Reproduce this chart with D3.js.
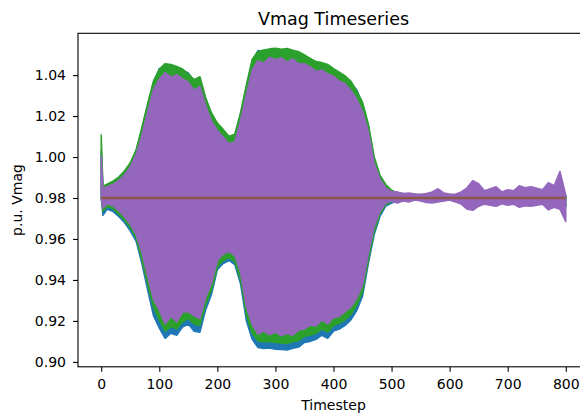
<!DOCTYPE html>
<html lang="en">
<head>
<meta charset="UTF-8">
<title>Vmag Timeseries</title>
<script src="https://d3js.org/d3.v7.min.js"></script>
<style>
  body { margin: 0; background: #fff; }
  svg { display: block; font-family: "DejaVu Sans", sans-serif; }
  .axis path { display: none; }
  .axis line { stroke: #000; stroke-width: 1.1; }
  .axis text { font-size: 14px; fill: #000; font-family: "DejaVu Sans", sans-serif; }
</style>
</head>
<body>
<svg id="chart" width="580" height="415"></svg>
<script>
const timesteps = [
  0, 3, 10, 20, 30, 40, 50, 60, 70, 80,
  90, 100, 110, 120, 130, 140, 150, 160, 170, 180,
  190, 200, 210, 220, 230, 240, 250, 260, 270, 280,
  290, 300, 310, 320, 330, 340, 350, 360, 370, 380,
  390, 400, 410, 420, 430, 440, 450, 460, 470, 480,
  490, 500, 510, 520, 530, 540, 550, 560, 570, 580,
  590, 600, 610, 620, 630, 640, 650, 660, 670, 680,
  690, 700, 710, 720, 730, 740, 750, 760, 770, 780,
  790, 800
];

// upper / lower swing of each oscillating series (p.u.)
const blueHi = [
  1.0030, 0.9852, 0.9864, 0.9876, 0.9896, 0.9926, 0.9966, 1.0028, 1.0138, 1.0255,
  1.0364, 1.0432, 1.0448, 1.0446, 1.0436, 1.0424, 1.0410, 1.0372, 1.0384, 1.0282,
  1.0208, 1.0160, 1.0128, 1.0096, 1.0105, 1.0210, 1.0345, 1.0470, 1.0520, 1.0515,
  1.0520, 1.0524, 1.0519, 1.0522, 1.0514, 1.0507, 1.0490, 1.0475, 1.0458, 1.0454,
  1.0445, 1.0425, 1.0406, 1.0389, 1.0362, 1.0328, 1.0260, 1.0155, 0.9995, 0.9905,
  0.9860, 0.9834, 0.9822, 0.9820, 0.9818, 0.9816, 0.9814, 0.9813, 0.9815, 0.9818,
  0.9814, 0.9813, 0.9812, 0.9815, 0.9820, 0.9828, 0.9824, 0.9817, 0.9820, 0.9822,
  0.9815, 0.9818, 0.9816, 0.9822, 0.9818, 0.9820, 0.9818, 0.9816, 0.9825, 0.9822,
  0.9838, 0.9810
];
const blueLo = [
  0.9800, 0.9715, 0.9745, 0.9735, 0.9710, 0.9680, 0.9640, 0.9590, 0.9480, 0.9350,
  0.9225, 0.9165, 0.9115, 0.9140, 0.9130, 0.9170, 0.9185, 0.9150, 0.9145, 0.9255,
  0.9330, 0.9450, 0.9480, 0.9495, 0.9475, 0.9380, 0.9200, 0.9110, 0.9070, 0.9065,
  0.9068, 0.9062, 0.9060, 0.9058, 0.9066, 0.9072, 0.9095, 0.9100, 0.9110, 0.9130,
  0.9115, 0.9150, 0.9160, 0.9178, 0.9205, 0.9250, 0.9320, 0.9480, 0.9620, 0.9710,
  0.9760, 0.9775, 0.9785, 0.9790, 0.9788, 0.9792, 0.9790, 0.9786, 0.9784, 0.9786,
  0.9788, 0.9790, 0.9786, 0.9780, 0.9770, 0.9768, 0.9776, 0.9780, 0.9778, 0.9776,
  0.9782, 0.9778, 0.9780, 0.9774, 0.9778, 0.9776, 0.9778, 0.9780, 0.9770, 0.9774,
  0.9768, 0.9758
];
const greenHi = [
  1.0107, 0.9858, 0.9868, 0.9882, 0.9902, 0.9932, 0.9972, 1.0035, 1.0145, 1.0262,
  1.0372, 1.0428, 1.0456, 1.0452, 1.0442, 1.0430, 1.0405, 1.0378, 1.0392, 1.0288,
  1.0215, 1.0166, 1.0135, 1.0102, 1.0112, 1.0218, 1.0352, 1.0478, 1.0515, 1.0522,
  1.0528, 1.0531, 1.0526, 1.0530, 1.0521, 1.0514, 1.0498, 1.0482, 1.0466, 1.0461,
  1.0452, 1.0432, 1.0414, 1.0396, 1.0370, 1.0322, 1.0268, 1.0162, 1.0002, 0.9912,
  0.9866, 0.9838, 0.9826, 0.9822, 0.9820, 0.9818, 0.9816, 0.9815, 0.9818, 0.9822,
  0.9816, 0.9815, 0.9814, 0.9818, 0.9825, 0.9835, 0.9828, 0.9820, 0.9824, 0.9826,
  0.9818, 0.9822, 0.9820, 0.9826, 0.9822, 0.9824, 0.9822, 0.9820, 0.9830, 0.9826,
  0.9845, 0.9812
];
const greenLo = [
  0.9800, 0.9735, 0.9758, 0.9748, 0.9722, 0.9692, 0.9655, 0.9605, 0.9500, 0.9380,
  0.9268, 0.9205, 0.9150, 0.9172, 0.9160, 0.9196, 0.9212, 0.9185, 0.9178, 0.9280,
  0.9352, 0.9465, 0.9495, 0.9508, 0.9490, 0.9402, 0.9228, 0.9140, 0.9102, 0.9098,
  0.9100, 0.9095, 0.9092, 0.9090, 0.9098, 0.9104, 0.9125, 0.9130, 0.9140, 0.9160,
  0.9145, 0.9178, 0.9188, 0.9205, 0.9232, 0.9275, 0.9342, 0.9498, 0.9635, 0.9722,
  0.9768, 0.9782, 0.9788, 0.9792, 0.9790, 0.9794, 0.9792, 0.9788, 0.9786, 0.9788,
  0.9790, 0.9792, 0.9788, 0.9782, 0.9772, 0.9770, 0.9778, 0.9782, 0.9780, 0.9778,
  0.9784, 0.9780, 0.9782, 0.9776, 0.9780, 0.9778, 0.9780, 0.9782, 0.9772, 0.9776,
  0.9770, 0.9760
];
const purpleHi = [
  1.0002, 0.9845, 0.9855, 0.9866, 0.9885, 0.9912, 0.9952, 1.0012, 1.0105, 1.0222,
  1.0330, 1.0380, 1.0412, 1.0390, 1.0402, 1.0382, 1.0365, 1.0325, 1.0345, 1.0250,
  1.0175, 1.0130, 1.0098, 1.0066, 1.0072, 1.0180, 1.0305, 1.0425, 1.0470, 1.0458,
  1.0488, 1.0475, 1.0485, 1.0462, 1.0480, 1.0455, 1.0455, 1.0440, 1.0418, 1.0425,
  1.0405, 1.0395, 1.0370, 1.0358, 1.0325, 1.0282, 1.0222, 1.0125, 0.9970, 0.9892,
  0.9850, 0.9830, 0.9830, 0.9822, 0.9825, 0.9820, 0.9818, 0.9822, 0.9830, 0.9845,
  0.9825, 0.9820, 0.9818, 0.9830, 0.9850, 0.9885, 0.9870, 0.9835, 0.9845, 0.9855,
  0.9830, 0.9840, 0.9835, 0.9860, 0.9850, 0.9855, 0.9848, 0.9840, 0.9875, 0.9860,
  0.9930, 0.9815
];
const purpleLo = [
  0.9800, 0.9750, 0.9772, 0.9762, 0.9738, 0.9708, 0.9672, 0.9622, 0.9535, 0.9418,
  0.9305, 0.9252, 0.9185, 0.9222, 0.9195, 0.9242, 0.9245, 0.9225, 0.9212, 0.9315,
  0.9385, 0.9495, 0.9525, 0.9538, 0.9520, 0.9435, 0.9268, 0.9182, 0.9135, 0.9150,
  0.9132, 0.9145, 0.9128, 0.9138, 0.9130, 0.9155, 0.9160, 0.9180, 0.9175, 0.9205,
  0.9185, 0.9215, 0.9222, 0.9245, 0.9268, 0.9310, 0.9375, 0.9528, 0.9660, 0.9735,
  0.9775, 0.9785, 0.9775, 0.9785, 0.9780, 0.9790, 0.9785, 0.9778, 0.9775, 0.9780,
  0.9785, 0.9790, 0.9780, 0.9770, 0.9745, 0.9740, 0.9760, 0.9770, 0.9765, 0.9760,
  0.9772, 0.9765, 0.9770, 0.9755, 0.9762, 0.9760, 0.9765, 0.9770, 0.9742, 0.9755,
  0.9745, 0.9685
];

// flat series
const flatSteps = [0, 800];
const orangeVals = [0.98, 0.98];
const redVals = [0.98, 0.98];
const brownVals = [0.98, 0.98];

const xTicks = [0, 100, 200, 300, 400, 500, 600, 700, 800];
const yTicks = [0.90, 0.92, 0.94, 0.96, 0.98, 1.00, 1.02, 1.04];

const svg = d3.select("#chart");
const margin = {top: 33.3, left: 78, right: 589, bottom: 366.8};

const x = d3.scaleLinear().domain([-40, 840]).range([margin.left, margin.right]);
const y = d3.scaleLinear().domain([0.8976, 1.0604]).range([margin.bottom, margin.top]);

svg.append("clipPath").attr("id", "plotClip")
  .append("rect")
  .attr("x", margin.left).attr("y", margin.top)
  .attr("width", margin.right - margin.left).attr("height", margin.bottom - margin.top);

const plot = svg.append("g").attr("clip-path", "url(#plotClip)");

const band = d3.area()
  .x(d => x(d.t))
  .y0(d => y(d.lo))
  .y1(d => y(d.hi));

const flat = d3.line().x(d => x(d.t)).y(d => y(d.v));

function drawBand(hi, lo, color) {
  const rows = timesteps.map((t, i) => ({t: t, hi: hi[i], lo: lo[i]}));
  plot.append("path")
    .datum(rows)
    .attr("d", band)
    .attr("fill", color)
    .attr("stroke", color)
    .attr("stroke-width", 1.5)
    .attr("stroke-linejoin", "round");
}

function drawFlat(vals, color) {
  const rows = flatSteps.map((t, i) => ({t: t, v: vals[i]}));
  plot.append("path")
    .datum(rows)
    .attr("d", flat)
    .attr("fill", "none")
    .attr("stroke", color)
    .attr("stroke-width", 2.4);
}

// same drawing order as the original plot
drawBand(blueHi, blueLo, "#1f77b4");
drawFlat(orangeVals, "#ff7f0e");
drawBand(greenHi, greenLo, "#2ca02c");
drawFlat(redVals, "#d62728");
drawBand(purpleHi, purpleLo, "#9467bd");
drawFlat(brownVals, "#8c564b");

// axes
svg.append("g")
  .attr("class", "axis")
  .attr("transform", `translate(0,${margin.bottom})`)
  .call(d3.axisBottom(x).tickValues(xTicks).tickSize(5).tickPadding(7).tickSizeOuter(0));

svg.append("g")
  .attr("class", "axis")
  .attr("transform", `translate(${margin.left},0)`)
  .call(d3.axisLeft(y).tickValues(yTicks).tickFormat(d3.format(".2f")).tickSize(5).tickPadding(7).tickSizeOuter(0));

// frame
svg.append("rect")
  .attr("x", margin.left).attr("y", margin.top)
  .attr("width", margin.right - margin.left).attr("height", margin.bottom - margin.top)
  .attr("fill", "none").attr("stroke", "#000").attr("stroke-width", 1.1);

svg.append("text")
  .attr("x", (margin.left + margin.right) / 2).attr("y", 24.5)
  .attr("text-anchor", "middle")
  .style("font-size", "17.5px")
  .text("Vmag Timeseries");

svg.append("text")
  .attr("x", (margin.left + margin.right) / 2).attr("y", 410)
  .attr("text-anchor", "middle")
  .style("font-size", "14px")
  .text("Timestep");

svg.append("text")
  .attr("transform", `translate(22,${(margin.top + margin.bottom) / 2}) rotate(-90)`)
  .attr("text-anchor", "middle")
  .style("font-size", "14px")
  .text("p.u. Vmag");
</script>
</body>
</html>
